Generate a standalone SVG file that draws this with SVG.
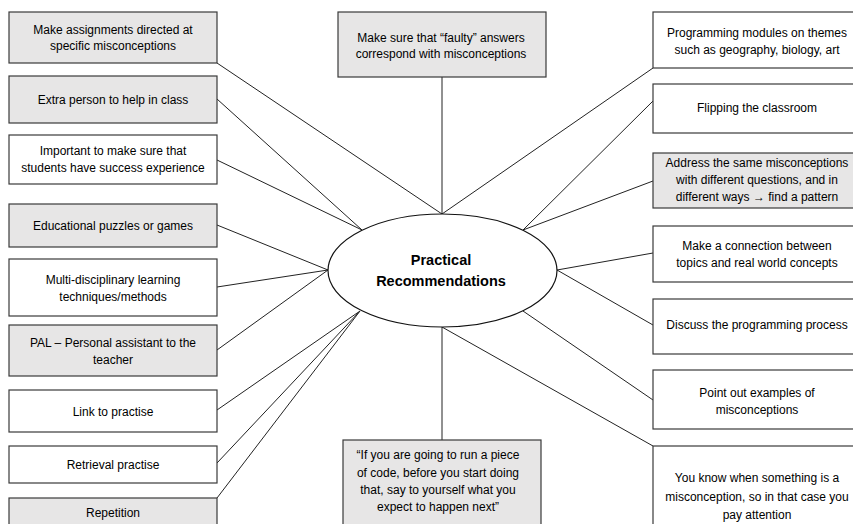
<svg xmlns="http://www.w3.org/2000/svg" width="853" height="524" viewBox="0 0 853 524">
  <style>
    .box { stroke: #3a3a3a; stroke-width: 1.2; }
    .gray { fill: #e7e6e6; }
    .white { fill: #ffffff; }
    .lbl { font-family: "Liberation Sans", Arial, sans-serif; font-size: 12px; fill: #000; text-anchor: middle; }
    .hub { font-family: "Liberation Sans", Arial, sans-serif; font-size: 14.5px; font-weight: bold; fill: #000; text-anchor: middle; }
    .arrow { font-weight: bold; }
    .conn line { stroke: #222; stroke-width: 1; }
  </style>
  <rect width="853" height="524" fill="#ffffff"/>

  <!-- connectors -->
  <g id="connectors" class="conn">
    <line x1="217" y1="63" x2="442" y2="214"/>
    <line x1="442" y1="77" x2="442" y2="214"/>
    <line x1="653" y1="68" x2="442" y2="214"/>
    <line x1="217" y1="99" x2="362" y2="230"/>
    <line x1="217" y1="160" x2="362" y2="230"/>
    <line x1="217" y1="225" x2="328" y2="270"/>
    <line x1="217" y1="287" x2="328" y2="270"/>
    <line x1="217" y1="350" x2="328" y2="270"/>
    <line x1="217" y1="410" x2="360" y2="311"/>
    <line x1="217" y1="463" x2="360" y2="311"/>
    <line x1="217" y1="498" x2="360" y2="311"/>
    <line x1="442" y1="327" x2="442" y2="440"/>
    <line x1="442" y1="327" x2="653" y2="446"/>
    <line x1="523" y1="311" x2="653" y2="400"/>
    <line x1="523" y1="230" x2="653" y2="101"/>
    <line x1="523" y1="230" x2="653" y2="181"/>
    <line x1="557" y1="270" x2="653" y2="253"/>
    <line x1="557" y1="270" x2="653" y2="325"/>
  </g>

  <!-- central hub -->
  <g id="hub">
    <ellipse cx="442.5" cy="270.5" rx="114.5" ry="56.5" fill="#ffffff" stroke="#111" stroke-width="1.2"/>
    <text class="hub" x="441" y="265">Practical</text>
    <text class="hub" x="441" y="286">Recommendations</text>
  </g>

  <!-- left column -->
  <g id="n-assignments">
    <rect class="box gray" x="9" y="12" width="208" height="51"/>
    <text class="lbl" x="113" y="33.5">Make assignments directed at</text>
    <text class="lbl" x="113" y="50">specific misconceptions</text>
  </g>
  <g id="n-extra-person">
    <rect class="box gray" x="9" y="76" width="208" height="47"/>
    <text class="lbl" x="113" y="103.5">Extra person to help in class</text>
  </g>
  <g id="n-success">
    <rect class="box white" x="9" y="135" width="208" height="49"/>
    <text class="lbl" x="113" y="155">Important to make sure that</text>
    <text class="lbl" x="113" y="171.5">students have success experience</text>
  </g>
  <g id="n-puzzles">
    <rect class="box gray" x="9" y="204" width="208" height="43"/>
    <text class="lbl" x="113" y="229.5">Educational puzzles or games</text>
  </g>
  <g id="n-multidisciplinary">
    <rect class="box white" x="9" y="259" width="208" height="57"/>
    <text class="lbl" x="113" y="284">Multi-disciplinary learning</text>
    <text class="lbl" x="113" y="301">techniques/methods</text>
  </g>
  <g id="n-pal">
    <rect class="box gray" x="9" y="325" width="208" height="51"/>
    <text class="lbl" x="113" y="347">PAL – Personal assistant to the</text>
    <text class="lbl" x="113" y="364">teacher</text>
  </g>
  <g id="n-link-practise">
    <rect class="box white" x="9" y="390" width="208" height="42"/>
    <text class="lbl" x="113" y="415.5">Link to practise</text>
  </g>
  <g id="n-retrieval">
    <rect class="box white" x="9" y="446" width="208" height="37"/>
    <text class="lbl" x="113" y="469">Retrieval practise</text>
  </g>
  <g id="n-repetition">
    <rect class="box gray" x="9" y="498" width="208" height="40"/>
    <text class="lbl" x="113" y="517">Repetition</text>
  </g>

  <!-- top and bottom -->
  <g id="n-faulty">
    <rect class="box gray" x="338" y="12" width="208" height="65"/>
    <text class="lbl" x="441" y="41.5">Make sure that “faulty” answers</text>
    <text class="lbl" x="441" y="58">correspond with misconceptions</text>
  </g>
  <g id="n-run-code">
    <rect class="box gray" x="343" y="440" width="198" height="100"/>
    <text class="lbl" x="438" y="459">“If you are going to run a piece</text>
    <text class="lbl" x="438" y="476.5">of code, before you start doing</text>
    <text class="lbl" x="438" y="494">that, say to yourself what you</text>
    <text class="lbl" x="438" y="511">expect to happen next”</text>
  </g>

  <!-- right column -->
  <g id="n-modules">
    <rect class="box white" x="653" y="12" width="210" height="56"/>
    <text class="lbl" x="757" y="37">Programming modules on themes</text>
    <text class="lbl" x="757" y="54">such as geography, biology, art</text>
  </g>
  <g id="n-flipping">
    <rect class="box white" x="653" y="84" width="210" height="49"/>
    <text class="lbl" x="757" y="112">Flipping the classroom</text>
  </g>
  <g id="n-address">
    <rect class="box gray" x="653" y="153" width="210" height="55"/>
    <text class="lbl" x="757" y="167">Address the same misconceptions</text>
    <text class="lbl" x="757" y="184">with different questions, and in</text>
    <text class="lbl" x="757" y="201">different ways <tspan class="arrow">→</tspan> find a pattern</text>
  </g>
  <g id="n-connection">
    <rect class="box white" x="653" y="226" width="210" height="56"/>
    <text class="lbl" x="757" y="250">Make a connection between</text>
    <text class="lbl" x="757" y="266.5">topics and real world concepts</text>
  </g>
  <g id="n-discuss">
    <rect class="box white" x="653" y="299" width="210" height="55"/>
    <text class="lbl" x="757" y="329">Discuss the programming process</text>
  </g>
  <g id="n-examples">
    <rect class="box white" x="653" y="370" width="210" height="59"/>
    <text class="lbl" x="757" y="396.5">Point out examples of</text>
    <text class="lbl" x="757" y="413.5">misconceptions</text>
  </g>
  <g id="n-attention">
    <rect class="box white" x="653" y="446" width="210" height="100"/>
    <text class="lbl" x="757" y="482">You know when something is a</text>
    <text class="lbl" x="757" y="500.5">misconception, so in that case you</text>
    <text class="lbl" x="757" y="519">pay attention</text>
  </g>
</svg>
